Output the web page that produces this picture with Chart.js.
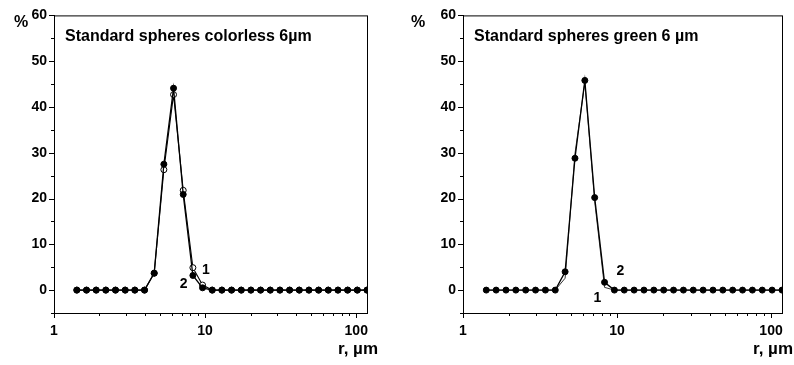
<!DOCTYPE html>
<html>
<head>
<meta charset="utf-8">
<script src="https://cdn.jsdelivr.net/npm/chart.js@4/dist/chart.umd.min.js"></script>
<style>
  body { margin: 0; background: #fff; }
  .wrap { display: flex; width: 794px; height: 365px; }
  .box { position: relative; width: 397px; height: 365px; }
</style>
</head>
<body>
<div class="wrap">
  <div class="box"><canvas id="left"></canvas></div>
  <div class="box"><canvas id="right"></canvas></div>
</div>
<script>
// radius grid (µm)
const r = [1.416, 1.641, 1.901, 2.203, 2.553, 2.958, 3.428, 3.972, 4.603, 5.333,
  6.18, 7.161, 8.299, 9.616, 11.14, 12.91, 14.96, 17.34, 20.09, 23.28,
  26.98, 31.26, 36.22, 41.98, 48.64, 56.36, 65.31, 75.68, 87.7, 101.6, 117.8];

// left panel: colorless 6 µm
const colorless1 = [0, 0, 0, 0, 0, 0, 0, 0, 3.7, 26.3, 42.7, 21.8, 4.9, 1.1, 0, 0,
  0, 0, 0, 0, 0, 0, 0, 0, 0, 0, 0, 0, 0, 0, 0];
const colorless2 = [0, 0, 0, 0, 0, 0, 0, 0, 3.7, 27.5, 44.1, 20.9, 3.2, 0.5, 0, 0,
  0, 0, 0, 0, 0, 0, 0, 0, 0, 0, 0, 0, 0, 0, 0];

// right panel: green 6 µm
const green1 = [0, 0, 0, 0, 0, 0, 0, 0, 2.6, 29.8, 45.3, 19.4, 0.6, 0, 0, 0,
  0, 0, 0, 0, 0, 0, 0, 0, 0, 0, 0, 0, 0, 0, 0];
const green2 = [0, 0, 0, 0, 0, 0, 0, 0, 4.0, 28.8, 45.8, 20.2, 1.7, 0, 0, 0,
  0, 0, 0, 0, 0, 0, 0, 0, 0, 0, 0, 0, 0, 0, 0];

const xLabels = [1, 10, 100];
const xTicks = [1, 2, 3, 4, 5, 6, 7, 8, 9, 10, 20, 30, 40, 50, 60, 70, 80, 90, 100];
const yLabels = [0, 10, 20, 30, 40, 50, 60];
const yTicks = [-5, 0, 5, 10, 15, 20, 25, 30, 35, 40, 45, 50, 55, 60];

const FONT = '"Liberation Sans", Arial, sans-serif';

const pts = arr => r.map((v, i) => ({ x: v, y: arr[i] }));

// frame, tick marks and annotations
const decor = {
  id: 'decor',
  afterDraw(chart, args, o) {
    const { ctx, chartArea: a, scales: { x, y } } = chart;
    ctx.save();
    ctx.strokeStyle = '#000';
    ctx.lineWidth = 1;
    ctx.strokeRect(a.left + 0.5, a.top + 0.5, a.right - a.left, a.bottom - a.top);
    ctx.beginPath();
    xTicks.forEach(v => {
      const px = Math.round(x.getPixelForValue(v)) + 0.5;
      const len = xLabels.includes(v) ? 5 : 3;
      ctx.moveTo(px, a.bottom);
      ctx.lineTo(px, a.bottom + len);
    });
    yTicks.forEach(v => {
      const py = Math.round(y.getPixelForValue(v)) + 0.5;
      const len = yLabels.includes(v) ? 5 : 3;
      ctx.moveTo(a.left, py);
      ctx.lineTo(a.left - len, py);
    });
    ctx.stroke();

    ctx.fillStyle = '#000';
    ctx.font = 'bold 16px ' + FONT;
    ctx.textAlign = 'left';
    ctx.textBaseline = 'alphabetic';
    ctx.fillText(o.title, a.left + 11, a.top + 26);

    ctx.font = 'bold 16px ' + FONT;
    ctx.textBaseline = 'middle';
    ctx.fillText('%', 14, 23);
    ctx.font = 'bold 17px ' + FONT;
    ctx.textAlign = 'right';
    ctx.fillText('r, µm', a.right + 11, 349);

    ctx.font = 'bold 14px ' + FONT;
    ctx.textAlign = 'center';
    o.marks.forEach(m => {
      ctx.fillText(m.text, x.getPixelForValue(m.x), y.getPixelForValue(m.y));
    });
    ctx.restore();
  }
};

function makeChart(id, s1, s2, title, marks, pad, thin1) {
  new Chart(document.getElementById(id), {
    type: 'line',
    data: {
      datasets: [
        {
          label: '2',
          data: pts(s2),
          borderColor: '#000',
          borderWidth: 1.3,
          backgroundColor: '#000',
          pointBackgroundColor: '#000',
          pointBorderColor: '#000',
          pointRadius: 3,
          pointBorderWidth: 1,
          tension: 0
        },
        {
          label: '1',
          data: pts(s1),
          borderColor: '#000',
          borderWidth: thin1 ? 0.8 : 1.1,
          pointBackgroundColor: '#fff',
          pointBorderColor: '#000',
          pointRadius: thin1 ? 0 : 3,
          pointBorderWidth: 1,
          tension: 0
        }
      ]
    },
    options: {
      responsive: true,
      maintainAspectRatio: false,
      animation: false,
      events: [],
      layout: { padding: pad },
      scales: {
        x: {
          type: 'logarithmic',
          min: 1,
          max: 117.8,
          grid: { display: false, drawTicks: false },
          border: { display: true, color: '#000', width: 1 },
          afterBuildTicks: sc => { sc.ticks = xLabels.map(v => ({ value: v })); },
          afterFit: sc => { sc.height = 52; },
          ticks: {
            autoSkip: false,
            maxRotation: 0,
            padding: 10,
            color: '#000',
            font: { family: FONT, size: 14, weight: 'bold' },
            callback: v => String(v)
          }
        },
        y: {
          min: -5,
          max: 60,
          grid: { display: false, drawTicks: false },
          border: { display: true, color: '#000', width: 1 },
          afterBuildTicks: sc => { sc.ticks = yLabels.map(v => ({ value: v })); },
          afterFit: sc => { sc.width = pad.yw; },
          ticks: {
            padding: 7,
            color: '#000',
            font: { family: FONT, size: 14, weight: 'bold' }
          }
        }
      },
      plugins: {
        legend: { display: false },
        tooltip: { enabled: false },
        decor: { title: title, marks: marks }
      }
    },
    plugins: [decor]
  });
}

makeChart('left', colorless1, colorless2, 'Standard spheres colorless 6µm',
  [{ text: '1', x: 10.1, y: 4.4 }, { text: '2', x: 7.2, y: 1.2 }],
  { left: 0, right: 30, top: 11, bottom: 0, yw: 54 }, false);

makeChart('right', green1, green2, 'Standard spheres green 6 µm',
  [{ text: '1', x: 7.45, y: -1.7 }, { text: '2', x: 10.5, y: 4.1 }],
  { left: 0, right: 12, top: 14, bottom: 0, yw: 66 }, true);
</script>
</body>
</html>
